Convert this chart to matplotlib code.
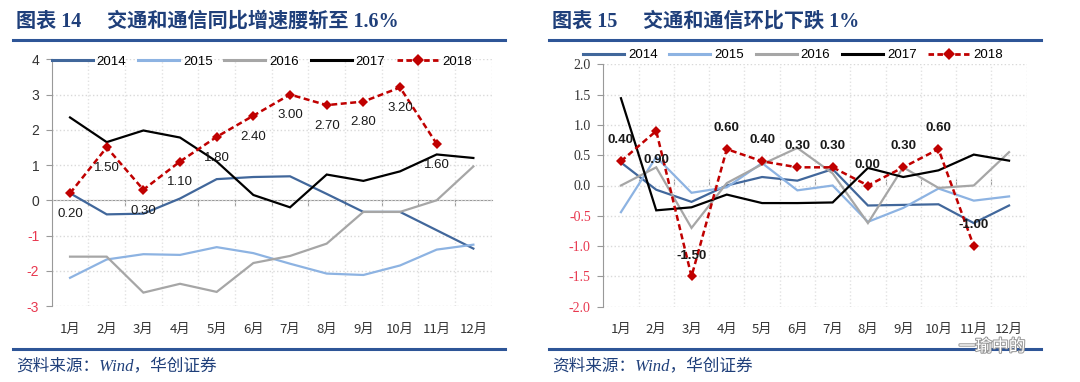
import matplotlib
matplotlib.use("Agg")
import matplotlib.pyplot as plt
import matplotlib.patheffects as pe
from matplotlib.lines import Line2D

# ─── data ─────────────────────────────────────────────────────────────────────
months = ["1月", "2月", "3月", "4月", "5月", "6月",
          "7月", "8月", "9月", "10月", "11月", "12月"]
years = ["2014", "2015", "2016", "2017", "2018"]

# 图表14: 同比
yoy_2014 = [0.2, -0.4, -0.38, 0.05, 0.6, 0.66, 0.68, 0.18, -0.33, -0.33, -0.85, -1.37]
yoy_2015 = [-2.2, -1.68, -1.53, -1.55, -1.33, -1.5, -1.8, -2.08, -2.12, -1.85, -1.4, -1.26]
yoy_2016 = [-1.6, -1.6, -2.62, -2.37, -2.6, -1.78, -1.58, -1.23, -0.33, -0.33, 0.0, 0.96]
yoy_2017 = [2.35, 1.65, 1.98, 1.78, 1.1, 0.15, -0.2, 0.73, 0.55, 0.82, 1.3, 1.2]
yoy_2018 = [0.2, 1.5, 0.3, 1.1, 1.8, 2.4, 3.0, 2.7, 2.8, 3.2, 1.6]
yoy_ticks = [-3, -2, -1, 0, 1, 2, 3, 4]

# 图表15: 环比
mom_2014 = [0.38, -0.07, -0.27, 0.0, 0.14, 0.08, 0.27, -0.33, -0.32, -0.31, -0.62, -0.33]
mom_2015 = [-0.44, 0.47, -0.12, -0.03, 0.37, -0.08, 0.0, -0.6, -0.37, -0.05, -0.25, -0.18]
mom_2016 = [0.0, 0.3, -0.7, 0.04, 0.35, 0.62, 0.2, -0.62, 0.3, -0.04, 0.0, 0.55]
mom_2017 = [1.44, -0.41, -0.36, -0.15, -0.29, -0.29, -0.28, 0.29, 0.14, 0.25, 0.51, 0.41]
mom_2018 = [0.4, 0.9, -1.5, 0.6, 0.4, 0.3, 0.3, 0.0, 0.3, 0.6, -1.0]
mom_ticks = [-2.0, -1.5, -1.0, -0.5, 0.0, 0.5, 1.0, 1.5, 2.0]
mom_label_below = [1]   # 0.90 sits under its point

# ─── style ────────────────────────────────────────────────────────────────────
COLORS = {"2014": "#41679B", "2015": "#8DB3E2", "2016": "#A6A6A6",
          "2017": "#000000", "2018": "#C00000"}
NAVY = "#1F3F7A"
RULE = "#2E5597"
NEG_RED = "#E8384F"
CJK = ["Noto Sans CJK SC", "DejaVu Sans"]
SERIF_CJK = ["Liberation Serif", "Noto Sans CJK SC", "DejaVu Sans"]
SANS = ["Liberation Sans", "DejaVu Sans"]

plt.rcParams["font.family"] = SANS
plt.rcParams["axes.unicode_minus"] = False

fig = plt.figure(figsize=(10.8, 3.82), dpi=100)
W, H = 1080, 382


def px_rect(x0, x1, ytop, ybot):
    return [x0 / W, 1 - ybot / H, (x1 - x0) / W, (ybot - ytop) / H]


def draw_panel(ax, series, ticks, tick_fmt, label_fmt, label_weight,
               label_offsets, legend_anchor):
    xs = list(range(len(months)))
    for yr, vals in zip(years[:4], series[:4]):
        ax.plot(xs[:len(vals)], vals, color=COLORS[yr], lw=1.6, zorder=3,
                solid_joinstyle="miter")
    red = series[4]
    ax.plot(xs[:len(red)], red, color=COLORS["2018"], lw=1.8,
            linestyle=(0, (2.4, 1.4)), marker="D", markersize=5.5,
            markeredgewidth=0, zorder=4)
    for i, v in enumerate(red):
        ax.annotate(label_fmt.format(v), (xs[i], v), xytext=(0, label_offsets[i]),
                    textcoords="offset points", ha="center", va="center",
                    fontsize=9.5, fontweight=label_weight, color="#1A1A1A",
                    zorder=6)

    ax.set_xlim(-0.5, len(months) - 0.5)
    ax.set_ylim(ticks[0], ticks[-1])
    ax.set_xticks(xs)
    ax.set_xticklabels(months, family=CJK, fontsize=9.5, color="#333333")
    ax.tick_params(axis="x", length=0, pad=12)
    ax.set_yticks(ticks)
    ax.set_yticklabels([tick_fmt.format(t) for t in ticks])
    ax.tick_params(axis="y", length=4, color="#999999", labelsize=10, pad=5)
    for lbl, t in zip(ax.get_yticklabels(), ticks):
        lbl.set_color(NEG_RED if t < 0 else "#333333")

    for sp in ["top", "right", "bottom"]:
        ax.spines[sp].set_visible(False)
    ax.spines["left"].set_color("#999999")

    # dotted grid: horizontal at ticks, vertical at category boundaries
    ax.set_xticks([x + 0.5 for x in xs[:-1]] + [len(months) - 0.5], minor=True)
    ax.tick_params(axis="x", which="minor", length=0)
    ax.grid(True, axis="y", which="major", color="#D9D9D9", linestyle=":", lw=1.0)
    ax.grid(True, axis="x", which="minor", color="#E2E2E2", linestyle=":", lw=1.0)
    ax.set_axisbelow(True)

    # zero axis with tick marks at boundaries
    zero_pos = (0 - ticks[0]) / (ticks[-1] - ticks[0])
    sec = ax.secondary_xaxis(zero_pos)
    sec.set_xticks([x + 0.5 for x in xs[:-1]])
    sec.tick_params(length=4, color="#999999", labelbottom=False, labeltop=False)
    sec.spines["bottom"].set_color("#999999")
    sec.spines["top"].set_visible(False)

    handles = [Line2D([], [], color=COLORS[y], lw=2.2) for y in years[:4]]
    handles.append(Line2D([], [], color=COLORS["2018"], lw=2.0,
                          linestyle=(0, (2.0, 1.2)), marker="D", markersize=6,
                          markeredgewidth=0))
    ax.legend(handles, years, loc="center left", bbox_to_anchor=legend_anchor,
              ncol=5, frameon=False, fontsize=9.5, handlelength=3.1,
              handletextpad=0.3, columnspacing=0.9, borderpad=0,
              borderaxespad=0)


# ─── left panel ───────────────────────────────────────────────────────────────
ax1 = fig.add_axes(px_rect(51.7, 491.7, 59.3, 306))
draw_panel(ax1, [yoy_2014, yoy_2015, yoy_2016, yoy_2017, yoy_2018],
           yoy_ticks, "{:d}", "{:.2f}", "normal",
           [-15] * len(yoy_2018), (0.0, 0.99))

# ─── right panel ──────────────────────────────────────────────────────────────
ax2 = fig.add_axes(px_rect(603.3, 1026.7, 64.3, 306.7))
offs = [15] * len(mom_2018)
for i in mom_label_below:
    offs[i] = -21
draw_panel(ax2, [mom_2014, mom_2015, mom_2016, mom_2017, mom_2018],
           mom_ticks, "{:.1f}", "{:.2f}", "bold", offs, (-0.048, 1.038))
for lbl in ax2.get_yticklabels():
    lbl.set_family(["Liberation Serif", "DejaVu Serif"])

# ─── titles, rules, sources ───────────────────────────────────────────────────
for x0, x1, num, title in [(16, 505, "图表 14", "交通和通信同比增速腰斩至 1.6%"),
                           (552, 1041, "图表 15", "交通和通信环比下跌 1%")]:
    fig.text(x0 / W, 1 - 22 / H, num, family=SERIF_CJK, fontweight="bold",
             fontsize=14.5, color=NAVY, va="center", ha="left")
    fig.text((x0 + 91) / W, 1 - 22 / H, title, family=SERIF_CJK, fontweight="bold",
             fontsize=14.5, color=NAVY, va="center", ha="left")
    for yy in (39.5, 349):
        fig.add_artist(Line2D([(x0 - 3) / W, x1 / W], [1 - yy / H, 1 - yy / H],
                              color=RULE, lw=2.2))
    fig.text(x0 / W, 1 - 366 / H, "资料来源：Wind，华创证券", family=SERIF_CJK,
             style="italic", fontsize=12, color=NAVY, va="center", ha="left")

# WeChat watermark, kept just under the month labels
fig.text(992 / W, 1 - 347 / H, "一瑜中的", family=CJK, fontsize=12,
         color="white", ha="center", va="center", zorder=10,
         path_effects=[pe.withStroke(linewidth=1.5, foreground="#9A9A9A")])

fig.savefig("out.png", dpi=100)
